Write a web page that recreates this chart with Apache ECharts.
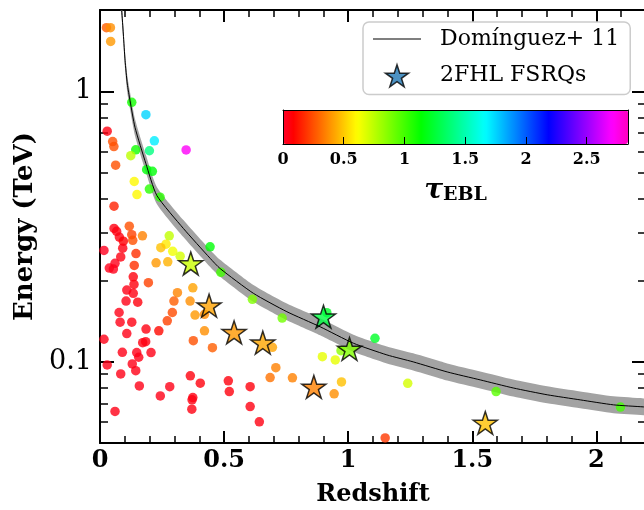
<!DOCTYPE html>
<html>
<head>
<meta charset="utf-8">
<script src="https://cdn.jsdelivr.net/npm/echarts@6/dist/echarts.min.js"></script>
<style>
html, body { margin: 0; padding: 0; background: #fff; }
#main { width: 644px; height: 510px; }
</style>
</head>
<body>
<div id="main"></div>
<script>
// 2FHL sources: redshift, highest photon energy (TeV), tau_EBL
var dotZ = [0.026, 0.042, 0.043, 0.128, 0.185, 0.029, 0.051, 0.056, 0.219, 0.347,
    0.144, 0.199, 0.124, 0.063, 0.188, 0.211, 0.138, 0.199, 0.149, 0.242,
    0.0565, 0.118, 0.0565, 0.067, 0.078, 0.094, 0.0915, 0.0835, 0.0605, 0.0375,
    0.054, 0.016, 0.128, 0.132, 0.171, 0.145, 0.138, 0.134, 0.137, 0.195,
    0.279, 0.266, 0.245, 0.293, 0.323, 0.226, 0.273, 0.374, 0.312, 0.108,
    0.134, 0.105, 0.152, 0.298, 0.363, 0.4435, 0.487, 0.077, 0.081, 0.128,
    0.2915, 0.271, 0.383, 0.421, 0.108, 0.1855, 0.237, 0.421, 0.016, 0.172,
    0.184, 0.376, 0.453, 0.090, 0.148, 0.156, 0.2056, 0.029, 0.130, 0.144,
    0.0835, 0.364, 0.404, 0.1585, 0.281, 0.243, 0.374, 0.371, 0.370, 0.0605,
    0.614, 0.734, 0.914, 0.971, 1.108, 0.896, 0.948, 0.7085, 0.6855, 0.7754,
    0.973, 0.9435, 1.24, 0.517, 0.521, 0.605, 0.605, 0.642, 1.596, 2.097,
    1.149, 0.6948];
var dotE = [1.72, 1.72, 1.53, 0.911, 0.820, 0.712, 0.652, 0.625, 0.656, 0.607,
    0.608, 0.603, 0.578, 0.533, 0.513, 0.506, 0.464, 0.435, 0.415, 0.406,
    0.376, 0.317, 0.311, 0.3035, 0.289, 0.279, 0.263, 0.244, 0.231, 0.222,
    0.220, 0.258, 0.295, 0.281, 0.292, 0.251, 0.227, 0.206, 0.193, 0.196,
    0.292, 0.272, 0.264, 0.256, 0.2455, 0.232, 0.234, 0.1875, 0.180, 0.184,
    0.179, 0.1675, 0.166, 0.1675, 0.1675, 0.266, 0.214, 0.152, 0.140, 0.140,
    0.152, 0.1416, 0.1487, 0.1496, 0.127, 0.132, 0.130, 0.130, 0.121, 0.1175,
    0.1185, 0.1195, 0.1126, 0.1083, 0.108, 0.1038, 0.108, 0.0972, 0.0981, 0.0926,
    0.0901, 0.0886, 0.0832, 0.0813, 0.0808, 0.0747, 0.0736, 0.0722, 0.0667, 0.0654,
    0.170, 0.145, 0.1517, 0.1098, 0.122, 0.1043, 0.1015, 0.095, 0.0873, 0.0871,
    0.0841, 0.076, 0.0831, 0.0849, 0.0775, 0.0808, 0.0682, 0.0599, 0.0775, 0.0679,
    0.0522, 0.113];
var dotTau = [0.28, 0.38, 0.40, 1.10, 1.75, 0.05, 0.25, 0.25, 1.70, 2.72,
    1.10, 1.40, 0.75, 0.25, 1.15, 1.15, 0.60, 1.05, 0.60, 1.05,
    0.15, 0.25, 0.05, 0.05, 0.05, 0.08, 0.05, 0.05, 0.03, 0.03,
    0.03, 0.02, 0.22, 0.25, 0.35, 0.18, 0.18, 0.06, 0.06, 0.22,
    0.74, 0.57, 0.48, 0.64, 0.70, 0.40, 0.45, 0.42, 0.36, 0.04,
    0.05, 0.04, 0.06, 0.28, 0.38, 1.15, 1.00, 0.04, 0.04, 0.05,
    0.24, 0.22, 0.40, 0.37, 0.04, 0.05, 0.10, 0.38, 0.04, 0.05,
    0.05, 0.25, 0.28, 0.04, 0.04, 0.04, 0.04, 0.04, 0.04, 0.04,
    0.04, 0.06, 0.06, 0.04, 0.04, 0.04, 0.05, 0.05, 0.05, 0.04,
    0.87, 0.90, 1.22, 0.85, 1.22, 0.66, 0.66, 0.35, 0.32, 0.35,
    0.48, 0.38, 0.70, 0.06, 0.06, 0.06, 0.05, 0.05, 0.95, 1.00,
    0.20, 0.42];

// 2FHL FSRQs (stars)
var fsrqZ = [0.3657, 0.4395, 0.5403, 0.656, 0.9004, 1.0052, 0.8617, 1.5524];
var fsrqE = [0.2307, 0.1612, 0.1284, 0.1175, 0.1466, 0.1114, 0.0806, 0.0593];
var fsrqTau = [0.72, 0.42, 0.40, 0.43, 1.27, 0.87, 0.35, 0.48];

// Dominguez+11 tau = 1 horizon and its band
var lineZ = [0.083, 0.0875, 0.094, 0.101, 0.110, 0.121, 0.141, 0.185, 0.229, 0.336,
    0.444, 0.484, 0.618, 0.753, 0.887, 1.021, 1.156, 1.262, 1.399, 1.532,
    1.665, 1.802, 1.935, 2.069, 2.19, 2.25];
var lineE = [2.2, 1.99, 1.63, 1.30, 1.065, 0.924, 0.736, 0.54, 0.412, 0.311,
    0.241, 0.221, 0.179, 0.153, 0.1346, 0.117, 0.1059, 0.0998, 0.0916, 0.0856,
    0.0799, 0.0754, 0.0722, 0.0692, 0.068, 0.0672];
var bandHigh = [2.365, 2.139, 1.752, 1.398, 1.145, 0.993, 0.791, 0.581, 0.443, 0.334,
    0.259, 0.238, 0.192, 0.164, 0.1447, 0.1258, 0.1138, 0.1073, 0.0985, 0.0920,
    0.0859, 0.0811, 0.0776, 0.0744, 0.0731, 0.0722];
var bandLow = [2.047, 1.851, 1.516, 1.209, 0.991, 0.860, 0.685, 0.502, 0.383, 0.289,
    0.224, 0.206, 0.1665, 0.1423, 0.1252, 0.1088, 0.0985, 0.0928, 0.0852, 0.0796,
    0.0743, 0.0701, 0.0672, 0.0644, 0.0633, 0.0625];

var xMinorTicks = [0.1, 0.2, 0.3, 0.4, 0.6, 0.7, 0.8, 0.9, 1.1, 1.2, 1.3, 1.4,
    1.6, 1.7, 1.8, 1.9, 2.1];
var yMinorTicks = [0.06, 0.07, 0.08, 0.09, 0.2, 0.3, 0.4, 0.5, 0.6, 0.7, 0.8, 0.9];
var tauMin = 0, tauMax = 2.84;

var font = 'DejaVu Serif';
var starPath = 'path://M50,0 L61.23,34.55 L97.55,34.55 L68.17,55.9 L79.39,90.45 L50,69.1 L20.61,90.45 L31.83,55.9 L2.45,34.55 L38.77,34.55 Z';
var linePath = 'path://M0,0 L48,0 L48,1.4 L0,1.4 Z';

// gist_rainbow colour map
var cmapStops = [[0, 255, 0, 41], [0.03, 255, 0, 0], [0.215, 255, 255, 0], [0.4, 0, 255, 0],
    [0.586, 0, 255, 255], [0.77, 0, 0, 255], [0.954, 255, 0, 255], [1, 255, 0, 191]];
function rainbow(t) {
    for (var i = 1; i < cmapStops.length; i++) {
        var a = cmapStops[i - 1], b = cmapStops[i];
        if (t <= b[0] + 1e-9) {
            var f = (t - a[0]) / (b[0] - a[0]);
            return 'rgb(' + [1, 2, 3].map(function (k) {
                return Math.round(a[k] + (b[k] - a[k]) * f);
            }).join(',') + ')';
        }
    }
    return 'rgb(255,0,191)';
}
var rainbowColors = [];
for (var i = 0; i <= 100; i++) rainbowColors.push(rainbow(i / 100));

var dotData = dotZ.map(function (z, i) { return [z, dotE[i], dotTau[i]]; });
var fsrqData = fsrqZ.map(function (z, i) { return [z, fsrqE[i], fsrqTau[i]]; });
var lineData = lineZ.map(function (z, i) { return [z, lineE[i]]; });

var blackLine = { color: '#000', width: 2 };

function xMain(pos, labels) {
    return {
        type: 'value', gridIndex: 0, position: pos, min: 0, max: 2.2, interval: 0.5,
        name: labels ? 'Redshift' : '', nameLocation: 'middle', nameGap: 40,
        nameTextStyle: { fontFamily: font, fontWeight: 'bold', fontSize: 24, color: '#000' },
        axisLine: { onZero: false, lineStyle: blackLine },
        axisTick: { inside: true, length: 12, lineStyle: blackLine },
        axisLabel: {
            show: labels, margin: 6, fontFamily: font, fontWeight: 'bold', fontSize: 24, color: '#000',
            formatter: function (v) { return v > 2.1 ? '' : String(v); }
        },
        splitLine: { show: false }
    };
}
function xMinor(pos) {
    return {
        type: 'value', gridIndex: 0, position: pos, min: 0, max: 2.2,
        axisLine: { show: false, onZero: false },
        axisTick: { inside: true, length: 7, customValues: xMinorTicks, lineStyle: { color: '#000', width: 1.5 } },
        axisLabel: { show: false }, splitLine: { show: false }
    };
}
function yMain(pos, labels) {
    return {
        type: 'log', logBase: 10, gridIndex: 0, position: pos, min: 0.05, max: 2,
        name: labels ? 'Energy (TeV)' : '', nameLocation: 'middle', nameGap: 60,
        nameTextStyle: { fontFamily: font, fontWeight: 'bold', fontSize: 26, color: '#000' },
        axisLine: { show: true, onZero: false, lineStyle: blackLine },
        axisTick: { inside: true, length: 14, lineStyle: blackLine },
        axisLabel: {
            show: labels, margin: 8, fontFamily: font, fontSize: 27, color: '#000',
            formatter: function (v) {
                var k = Math.log10(v);
                if (Math.abs(k - Math.round(k)) > 1e-6) return '';
                return String(+Math.pow(10, Math.round(k)).toFixed(3));
            }
        },
        splitLine: { show: false }
    };
}
function yMinor(pos) {
    return {
        type: 'value', gridIndex: 0, position: pos, min: Math.log10(0.05), max: Math.log10(2),
        axisLine: { show: false, onZero: false },
        axisTick: {
            inside: true, length: 8, lineStyle: { color: '#000', width: 1.5 },
            customValues: yMinorTicks.map(function (v) { return Math.log10(v); })
        },
        axisLabel: { show: false }, splitLine: { show: false }
    };
}
function cbFrame(pos) {
    return {
        type: 'value', gridIndex: 1, position: pos, min: 0, max: 1, z: 10,
        axisLine: { show: true, onZero: false, lineStyle: { color: '#000', width: 1 } },
        axisTick: { show: false }, axisLabel: { show: false }, splitLine: { show: false }
    };
}

var chart = echarts.init(document.getElementById('main'));
var option = {
    animation: false,
    backgroundColor: '#fff',
    textStyle: { fontFamily: font },
    grid: [
        { left: 100, top: 10, right: -2, bottom: 67, outerBoundsMode: 'none' },
        { left: 283, top: 110, width: 345, height: 34, outerBoundsMode: 'none' }
    ],
    xAxis: [
        xMain('bottom', true), xMinor('bottom'), xMain('top', false), xMinor('top'),
        {
            type: 'value', gridIndex: 1, position: 'bottom', min: tauMin, max: tauMax, interval: 0.5, z: 10,
            name: '{t|τ}{s|EBL}', nameLocation: 'middle', nameGap: 32,
            nameTextStyle: {
                rich: {
                    t: { fontFamily: font, fontStyle: 'italic', fontWeight: 'bold', fontSize: 28, color: '#000' },
                    s: { fontFamily: font, fontWeight: 'bold', fontSize: 19, color: '#000', padding: [10, 0, 0, 0] }
                }
            },
            axisLine: { onZero: false, lineStyle: { color: '#000', width: 1 } },
            axisTick: { inside: true, length: 7, lineStyle: { color: '#000', width: 1 } },
            axisLabel: {
                margin: 8, fontFamily: font, fontWeight: 'bold', fontSize: 16, color: '#000',
                formatter: function (v) { return v > 2.6 ? '' : String(v); }
            },
            splitLine: { show: false }
        },
        cbFrame('top')
    ],
    yAxis: [
        yMain('left', true), yMinor('left'), yMain('right', false), yMinor('right'),
        cbFrame('left'), cbFrame('right')
    ],
    visualMap: {
        type: 'continuous', min: tauMin, max: tauMax, dimension: 2, seriesIndex: [2, 3],
        orient: 'horizontal', left: 283, top: 110, itemWidth: 34, itemHeight: 345, padding: 0,
        calculable: false, hoverLink: false, inRange: { color: rainbowColors }, z: 2
    },
    legend: {
        left: 363, top: 22, orient: 'vertical', selectedMode: false,
        padding: [6, 11, 7, 10], itemGap: 14, itemWidth: 48, itemHeight: 22,
        backgroundColor: 'rgba(255,255,255,0.85)', borderColor: '#cccccc', borderWidth: 1.5, borderRadius: 6,
        textStyle: { fontFamily: font, fontSize: 22, color: '#000', padding: [0, 0, 0, 14] },
        data: [
            { name: 'Domínguez+ 11', icon: linePath, itemStyle: { color: '#555', borderWidth: 0 } },
            { name: '2FHL FSRQs', icon: starPath, itemStyle: { color: '#1f77b4', borderColor: '#000', borderWidth: 1.5 } }
        ]
    },
    series: [
        {
            name: 'band', type: 'custom', xAxisIndex: 0, yAxisIndex: 0, clip: true, silent: true,
            data: [[0, 0.1]],
            renderItem: function (params, api) {
                var pts = [];
                for (var i = 0; i < lineZ.length; i++) pts.push(api.coord([lineZ[i], bandHigh[i]]));
                for (var j = lineZ.length - 1; j >= 0; j--) pts.push(api.coord([lineZ[j], bandLow[j]]));
                return { type: 'polygon', shape: { points: pts, smooth: 0.2 }, style: { fill: '#a3a3a3' } };
            }
        },
        {
            name: 'Domínguez+ 11', type: 'line', xAxisIndex: 0, yAxisIndex: 0, data: lineData,
            symbol: 'none', smooth: 0.2, clip: true, silent: true,
            lineStyle: { color: '#000', width: 1 }, itemStyle: { color: '#333' }
        },
        {
            name: '2FHL', type: 'scatter', xAxisIndex: 0, yAxisIndex: 0, data: dotData,
            symbolSize: 9.5, silent: true
        },
        {
            name: '2FHL FSRQs', type: 'scatter', xAxisIndex: 0, yAxisIndex: 0, data: fsrqData,
            symbol: starPath, symbolKeepAspect: true, symbolSize: 24, silent: true,
            itemStyle: { color: '#1f77b4', borderColor: '#000', borderWidth: 1.5 }
        }
    ]
};
chart.setOption(option);
</script>
</body>
</html>
